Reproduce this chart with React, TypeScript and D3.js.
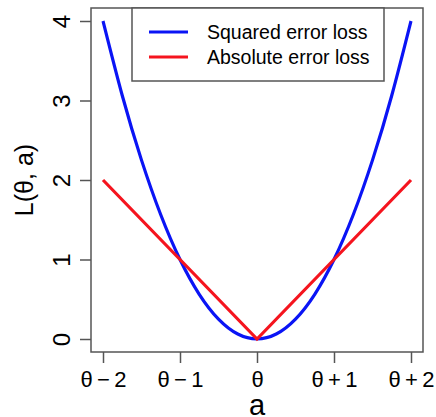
import React, { useEffect, useRef } from 'react';
import * as d3 from 'd3';

// a - theta offsets and loss values
const aOffsets = [-2, -1.75, -1.5, -1.25, -1, -0.75, -0.5, -0.25, 0, 0.25, 0.5, 0.75, 1, 1.25, 1.5, 1.75, 2];
const squaredLoss = [4, 3.0625, 2.25, 1.5625, 1, 0.5625, 0.25, 0.0625, 0, 0.0625, 0.25, 0.5625, 1, 1.5625, 2.25, 3.0625, 4];
const absOffsets = [-2, -1, 0, 1, 2];
const absoluteLoss = [2, 1, 0, 1, 2];

const xTicks = [-2, -1, 0, 1, 2];
const xTickLabels = ['θ\u2009−\u20092', 'θ\u2009−\u20091', 'θ', 'θ\u2009+\u20091', 'θ\u2009+\u20092'];
const yTicks = [0, 1, 2, 3, 4];

const legendLabels = ['Squared error loss', 'Absolute error loss'];
const colors = ['#0a14f5', '#f5141e'];

const App = () => {
  const svgRef = useRef<SVGSVGElement>(null);

  useEffect(() => {
    const width = 436,
      height = 417;
    const box = { left: 91, right: 423, top: 8, bottom: 352 };
    const font = 'Liberation Sans, Arial, Helvetica, sans-serif';

    const svg = d3.select(svgRef.current).attr('width', width).attr('height', height);
    svg.selectAll('*').remove();

    const x = d3.scaleLinear().domain([-2, 2]).range([103, 411]);
    const y = d3.scaleLinear().domain([0, 4]).range([339, 21]);

    const line = d3
      .line<[number, number]>()
      .x((d) => x(d[0]))
      .y((d) => y(d[1]));

    svg
      .append('path')
      .datum(aOffsets.map((a, i) => [a, squaredLoss[i]] as [number, number]))
      .attr('d', line.curve(d3.curveNatural))
      .attr('fill', 'none')
      .attr('stroke', colors[0])
      .attr('stroke-width', 3.2);

    svg
      .append('path')
      .datum(absOffsets.map((a, i) => [a, absoluteLoss[i]] as [number, number]))
      .attr('d', line.curve(d3.curveLinear))
      .attr('fill', 'none')
      .attr('stroke', colors[1])
      .attr('stroke-width', 3.2);

    // plot box
    svg
      .append('rect')
      .attr('x', box.left)
      .attr('y', box.top)
      .attr('width', box.right - box.left)
      .attr('height', box.bottom - box.top)
      .attr('fill', 'none')
      .attr('stroke', '#555')
      .attr('stroke-width', 1.5);

    // x axis
    const xAxis = svg.append('g').attr('transform', `translate(0,${box.bottom})`);
    xAxis
      .call(
        d3
          .axisBottom(x)
          .tickValues(xTicks)
          .tickSize(11)
          .tickPadding(8)
          .tickFormat((d, i) => xTickLabels[i])
      )
      .call((g) => g.select('.domain').remove());
    xAxis.selectAll('line').attr('stroke', '#555').attr('stroke-width', 1.5);
    xAxis
      .selectAll('text')
      .attr('font-family', font)
      .attr('font-size', 22)
      .attr('fill', '#000')
      .attr('dy', '0.71em');

    // y axis
    const yAxis = svg.append('g').attr('transform', `translate(${box.left},0)`);
    yAxis
      .call(d3.axisLeft(y).tickValues(yTicks).tickSize(11).tickFormat(d3.format('d')))
      .call((g) => g.select('.domain').remove());
    yAxis.selectAll('line').attr('stroke', '#555').attr('stroke-width', 1.5);
    yAxis
      .selectAll('text')
      .attr('font-family', font)
      .attr('font-size', 24)
      .attr('fill', '#000')
      .attr('x', 0)
      .attr('dy', 0)
      .attr('text-anchor', 'middle')
      .attr('transform', 'translate(-21,0) rotate(-90)');

    // axis titles
    svg
      .append('text')
      .attr('x', x(0))
      .attr('y', 415)
      .attr('text-anchor', 'middle')
      .attr('font-family', font)
      .attr('font-size', 29)
      .text('a');

    svg
      .append('text')
      .attr('transform', `translate(33,${(box.top + box.bottom) / 2}) rotate(-90)`)
      .attr('text-anchor', 'middle')
      .attr('font-family', font)
      .attr('font-size', 25)
      .text('L(θ, a)');

    // legend
    const legend = svg.append('g');
    legend
      .append('rect')
      .attr('x', 132)
      .attr('y', box.top)
      .attr('width', 252)
      .attr('height', 73)
      .attr('fill', '#fff')
      .attr('stroke', '#555')
      .attr('stroke-width', 1.5);
    legendLabels.forEach((label, i) => {
      const ly = 32 + i * 25;
      legend
        .append('line')
        .attr('x1', 149)
        .attr('x2', 188)
        .attr('y1', ly)
        .attr('y2', ly)
        .attr('stroke', colors[i])
        .attr('stroke-width', 3.2);
      legend
        .append('text')
        .attr('x', 207)
        .attr('y', ly)
        .attr('dy', '0.36em')
        .attr('font-family', font)
        .attr('font-size', 19.5)
        .text(label);
    });
  }, []);

  return (
    <svg
      ref={svgRef}
      style={{ position: 'absolute', left: 0, top: 0, display: 'block', background: '#fff' }}
    ></svg>
  );
};

export default App;
